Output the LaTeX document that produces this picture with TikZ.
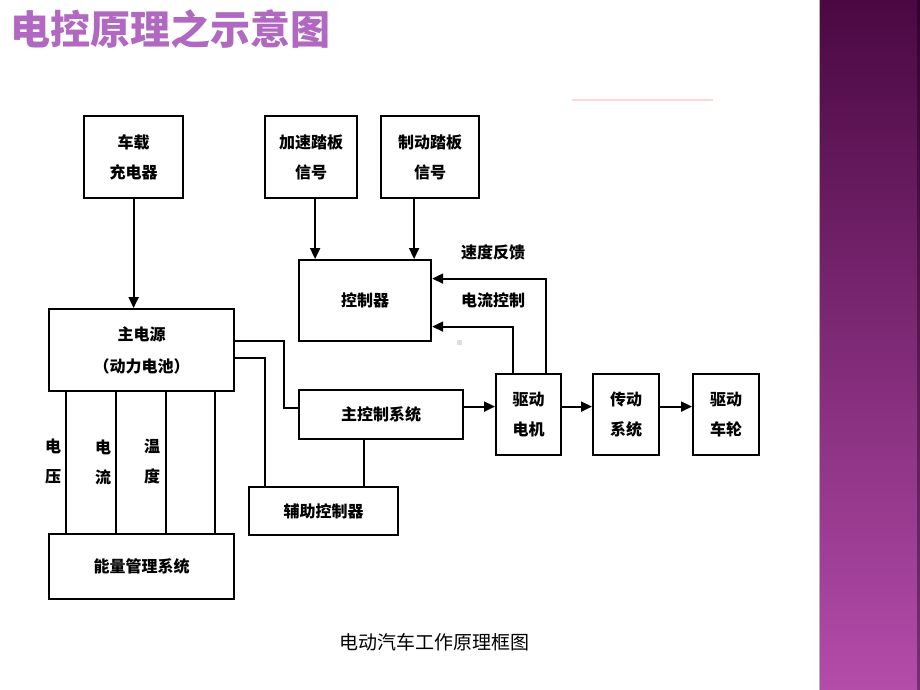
\documentclass[tikz,border=0pt]{standalone}
\usepackage{fontspec}
\newfontfamily\cjk{Noto Sans CJK SC}
\usetikzlibrary{arrows.meta}
\definecolor{bandtop}{RGB}{74,8,66}
\definecolor{bandmid}{RGB}{140,46,128}
\definecolor{bandbot}{RGB}{180,76,170}
\definecolor{titlepurple}{RGB}{176,104,192}

\begin{document}
\begin{tikzpicture}
     [
     x=1pt, y=-1pt,
     every node/.style={font=\cjk\bfseries\fontsize{16}{30}\selectfont, inner sep=0pt},
     box/.style={draw, line width=2.2pt, anchor=north west, align=center},
     wire/.style={line width=2pt},
     arr/.style={line width=2pt, -{Triangle[length=11pt,width=10pt]}}
     ]
     \useasboundingbox (0,0) rectangle (920,690);
     \shade[top color=bandtop, middle color=bandmid, bottom color=bandbot] (819,0) rectangle (920,690);
     \draw[gray!60, line width=0.8pt] (819,0) -- (819,690);
     \fill[black, opacity=0.35] (917,0) rectangle (920,690);
     \draw[pink!60, line width=2.5pt] (572,100) -- (713,100);
     \fill[gray!25] (457,340) rectangle (462,345);

     \node[anchor=west, text=titlepurple, font=\cjk\bfseries\fontsize{40}{42}\selectfont] (title) at (10,29) {电控原理之示意图};
     \node[font=\cjk\fontsize{19}{20}\selectfont] (caption) at (434,642) {电动汽车工作原理框图};

     \node[box, minimum width=99, minimum height=82] (charger) at (83,115) {车载\\充电器};
     \node[box, minimum width=92, minimum height=82] (accel) at (264,115) {加速踏板\\信号};
     \node[box, minimum width=98, minimum height=82] (brake) at (380,115) {制动踏板\\信号};
     \node[box, minimum width=132, minimum height=81] (ctrl) at (298,259) {控制器};
     \node[box, minimum width=185, minimum height=82, font=\cjk\bfseries\fontsize{16}{32}\selectfont] (power) at (48,308) {主电源\\（动力电池）};
     \node[box, minimum width=164, minimum height=49] (mainctl) at (298,389) {主控制系统};
     \node[box, minimum width=65, minimum height=81] (motor) at (495,373) {驱动\\电机};
     \node[box, minimum width=66, minimum height=81] (trans) at (592,373) {传动\\系统};
     \node[box, minimum width=66, minimum height=81] (wheel) at (692,373) {驱动\\车轮};
     \node[box, minimum width=149, minimum height=48] (aux) at (248,486) {辅助控制器};
     \node[box, minimum width=185, minimum height=65] (energy) at (48,533) {能量管理系统};

     \node[align=center] (volt) at (53,462) {电\\压};
     \node[align=center] (amp) at (103,462) {电\\流};
     \node[align=center] (temp) at (152,462) {温\\度};
     \node (speedfb) at (493,252) {速度反馈};
     \node (curctl) at (493,300) {电流控制};

     \draw[arr] (charger.south) -- (charger.south |- power.north);
     \draw[arr] ([xshift=4pt]accel.south) -- ([xshift=4pt]accel.south |- ctrl.north);
     \draw[arr] ([xshift=-16pt]brake.south) -- ([xshift=-16pt]brake.south |- ctrl.north);
     \draw[arr] ([xshift=17pt]motor.north) |- ([yshift=22pt]ctrl.east);
     \draw[arr] ([xshift=-16pt]motor.north) |- ([yshift=-26pt]ctrl.east);
     \draw[wire] ([yshift=9pt]power.east) -- ++(49,0) |- ([yshift=7pt]mainctl.west);
     \draw[wire] ([yshift=-8pt]power.east) -| ([xshift=17pt]aux.north west);
     \draw[wire] ([xshift=-17pt]mainctl.south) -- ([xshift=-17pt]mainctl.south |- aux.north);
     \draw[arr] ([yshift=8pt]mainctl.east) -- ([yshift=8pt]mainctl.east -| motor.west);
     \draw[arr] ([yshift=8pt]motor.east) -- ([yshift=8pt]trans.west);
     \draw[arr] ([yshift=8pt]trans.east) -- ([yshift=8pt]wheel.west);
     \foreach \dx in {18,68,118,167}
          \draw[wire] ([xshift=\dx pt]power.south west) -- ([xshift=\dx pt]energy.north west);
\end{tikzpicture}
\end{document}
